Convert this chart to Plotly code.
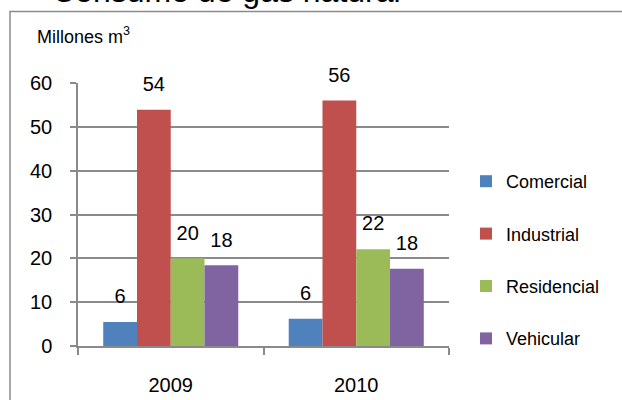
import plotly.graph_objects as go

years = ["2009", "2010"]
series_names = ["Comercial", "Industrial", "Residencial", "Vehicular"]
comercial = [5.5, 6.2]
industrial = [53.9, 56.0]
residencial = [20.0, 22.1]
vehicular = [18.4, 17.6]
colors = ["#4F81BD", "#C0504D", "#9BBB59", "#8064A2"]

series_values = [comercial, industrial, residencial, vehicular]

FONT = "Liberation Sans, Arial, sans-serif"
GRID = "#8a8a8a"
LABEL_GAP = 2.7  # data-unit spacer between bar top and its value label

fig = go.Figure()
for name, vals, col in zip(series_names, series_values, colors):
    fig.add_trace(go.Bar(
        name=name, x=years, y=vals, marker=dict(color=col, line=dict(width=0)),
        offsetgroup=name, legendgroup=name,
    ))
for name, vals in zip(series_names, series_values):
    fig.add_trace(go.Bar(
        x=years, y=[LABEL_GAP] * len(vals), base=vals, offsetgroup=name,
        marker=dict(color="rgba(0,0,0,0)", line=dict(width=0)),
        text=[f"{v:.0f}" for v in vals], textposition="outside",
        textfont=dict(family=FONT, size=20, color="#000000"),
        constraintext="none", cliponaxis=False, showlegend=False, hoverinfo="skip",
    ))

W, H = 622, 400
L, R, T, B = 78, 173, 83, 54
pw, ph = W - L - R, H - T - B

def px(x):
    return (x - L) / pw

def py(y):
    return (H - B - y) / ph

fig.update_layout(
    width=W, height=H, margin=dict(l=L, r=R, t=T, b=B, autoexpand=False),
    paper_bgcolor="white", plot_bgcolor="white",
    barmode="group", bargap=0.272, bargroupgap=0,
    font=dict(family=FONT, color="#000000"),
    showlegend=True,
    legend=dict(x=px(466), y=py(163), xanchor="left", yanchor="top",
                font=dict(family=FONT, size=18, color="#000000"),
                tracegroupgap=26, bgcolor="rgba(0,0,0,0)"),
    xaxis=dict(type="category", tickson="boundaries", ticks="outside", ticklen=7,
               tickcolor=GRID, tickwidth=1.5, showline=True, linecolor=GRID, linewidth=1.5,
               showgrid=False, tickfont=dict(family=FONT, size=20, color="#000000"),
               ticklabelstandoff=20, automargin=False),
    yaxis=dict(range=[0, 60], dtick=10, ticks="outside", ticklen=6, tickcolor=GRID,
               tickwidth=1.5, showline=True, linecolor=GRID, linewidth=1.5,
               showgrid=True, gridcolor=GRID, gridwidth=1.5, zeroline=False,
               tickfont=dict(family=FONT, size=20, color="#000000"),
               ticklabelstandoff=14, automargin=False),
    shapes=[dict(type="rect", xref="paper", yref="paper",
                 x0=px(10), x1=px(700), y0=py(460), y1=py(11.5),
                 line=dict(color=GRID, width=1.5), fillcolor="rgba(0,0,0,0)", layer="below")],
    annotations=[
        dict(text="Consumo de gas natural", xref="paper", yref="paper",
             x=px(50), y=py(-9), xanchor="left", yanchor="middle", showarrow=False,
             font=dict(family=FONT, size=32, color="#000000")),
        dict(text="Millones m<sup>3</sup>", xref="paper", yref="paper",
             x=px(35), y=py(35), xanchor="left", yanchor="middle", showarrow=False,
             font=dict(family=FONT, size=18, color="#000000")),
    ],
)

fig.write_html("out.html", config={"displayModeBar": False},
               post_script="document.body.style.margin='0';")
